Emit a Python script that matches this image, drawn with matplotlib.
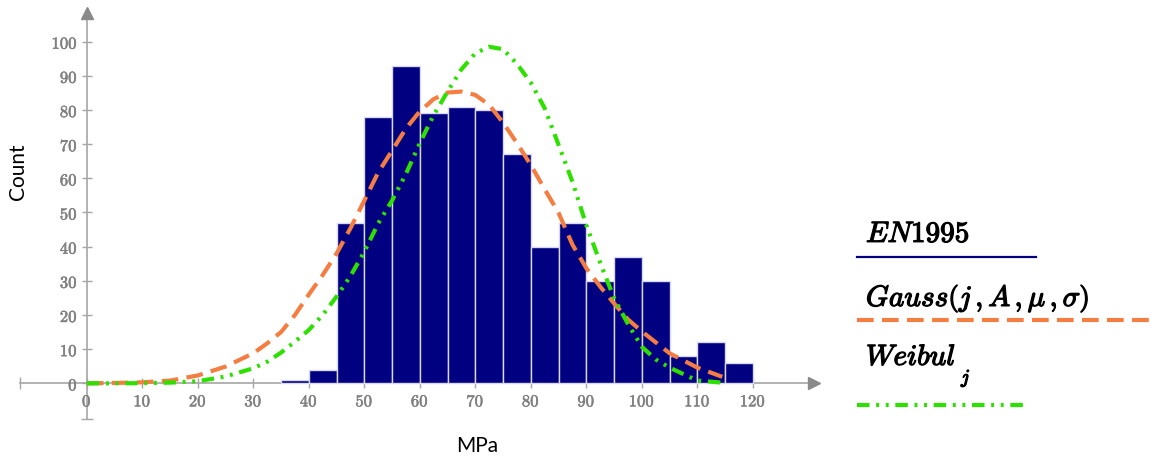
import matplotlib
matplotlib.use("Agg")
import matplotlib.pyplot as plt
import matplotlib.patheffects as pe
from matplotlib.lines import Line2D
from matplotlib.ticker import FuncFormatter

plt.rcParams['mathtext.fontset'] = 'cm'

# histogram (EN1995), 5 MPa bins, left edges
bin_left = [35, 40, 45, 50, 55, 60, 65, 70, 75, 80, 85, 90, 95, 100, 105, 110, 115]
counts = [1, 4, 47, 78, 93, 79, 81, 80, 67, 40, 47, 30, 37, 30, 8, 12, 6]

# fitted curves
gauss_x = [0, 5, 10, 15, 20, 25, 30, 32.5, 35, 37.5, 40, 42.5, 45, 47.5, 50, 52.5, 55, 57.5,
           60, 62.5, 65, 67.5, 70, 72.5, 75, 77.5, 80, 82.5, 85, 87.5, 90, 92.5, 95, 97.5,
           100, 105, 110, 114.5]
gauss_y = [0.0, 0.1, 0.3, 0.8, 2.3, 4.9, 8.8, 11.7, 15.0, 20.0, 26.0, 31.7, 38.0, 45.4, 53.5, 61.7, 68.1, 74.6,
           79.6, 83.2, 85.1, 85.4, 84.4, 81.5, 76.3, 70.3, 63.9, 56.8, 49.9, 40.6, 33.7, 28.3, 23.4, 18.7,
           15.2, 8.8, 4.6, 1.9]

weib_x = [0, 5, 10, 15, 20, 25, 30, 32.5, 35, 37.5, 40, 42.5, 45, 47.5, 50, 52.5, 55, 57.5,
          60, 62.5, 65, 67.5, 70, 72.5, 75, 77.5, 80, 82.5, 85, 87.5, 90, 92.5, 95, 97.5,
          100, 102.5, 105, 110, 114.5]
weib_y = [0.0, 0.0, 0.05, 0.2, 0.6, 2.0, 4.4, 6.3, 9.0, 12.2, 15.6, 20.0, 25.4, 31.4, 38.5, 46.8, 53.5, 61.3,
          70.3, 78.5, 85.4, 91.9, 96.6, 98.5, 97.8, 93.5, 88.0, 80.5, 69.8, 59.0, 46.3, 35.3, 24.9, 17.4,
          10.7, 7.0, 4.6, 0.8, 0.2]

xticks = list(range(0, 130, 10))
yticks = list(range(0, 110, 10))

W, H = 1150, 459
def px(x, y):
    return x / W, 1 - y / H

fig = plt.figure(figsize=(11.5, 4.59), dpi=100)
ax = fig.add_axes([0.01757, 0.0830, 0.6998, 0.9081])
ax.set_xlim(-12, 133)
ax.set_ylim(-11, 111)

ax.bar(bin_left, counts, width=5, align='edge', color='#000080', edgecolor='#d8d8f2', linewidth=1, zorder=2)
ax.plot(gauss_x, gauss_y, color='#f47d42', lw=3, dashes=(4, 2), zorder=3)
ax.plot(weib_x, weib_y, color='#2ee000', lw=3, dashes=(3, 1.6, 0.7, 1.6, 0.7, 1.6), zorder=3)

# axes through the origin with arrow heads
axis_col = '#a6a6a6'
for s in ['top', 'right']:
    ax.spines[s].set_visible(False)
ax.spines['left'].set_position(('data', 0))
ax.spines['bottom'].set_position(('data', 0))
ax.spines['left'].set_bounds(-10.5, 109)
ax.spines['bottom'].set_bounds(-12, 131)
for s in ['left', 'bottom']:
    ax.spines[s].set_color(axis_col)
    ax.spines[s].set_linewidth(1.2)
    ax.spines[s].set_zorder(1)
ax.plot(131, 0, marker='>', ms=9, color='#8a8a8a', clip_on=False)
ax.plot(0, 108.5, marker='^', ms=9, color='#8a8a8a', clip_on=False)
ax.plot(-12, 0, marker='|', ms=8, color=axis_col, clip_on=False)
ax.plot(0, -10.5, marker='_', ms=8, color=axis_col, clip_on=False)

ax.set_xticks(xticks)
ax.set_yticks(yticks)
fmt = FuncFormatter(lambda v, p: r'$%d$' % v)
ax.xaxis.set_major_formatter(fmt)
ax.yaxis.set_major_formatter(fmt)
ax.tick_params(direction='inout', length=7, width=1, color=axis_col,
               labelcolor='#808080', labelsize=12, pad=3)
for lab in ax.get_xticklabels() + ax.get_yticklabels():
    lab.set_path_effects([pe.withStroke(linewidth=0.4, foreground='#808080')])

fig.text(*px(18, 172), 'Count', rotation=90, ha='center', va='center', fontsize=15, family='Lato')
fig.text(*px(477, 446), 'MPa', ha='center', va='center', fontsize=15, family='Lato')

# legend on the right
bold = [pe.withStroke(linewidth=0.9, foreground='black')]
fig.text(*px(866, 242), r'$EN1995$', fontsize=21, ha='left', va='baseline', path_effects=bold)
fig.add_artist(Line2D([857 / W, 1036 / W], [1 - 256.7 / H] * 2, color='#000080', lw=1.6))
fig.text(*px(866, 306), r'$Gauss\left(j\,,A\,,\mu\,,\sigma\right)$', fontsize=21, ha='left',
         va='baseline', path_effects=bold)
fig.add_artist(Line2D([857 / W, 1150 / W], [1 - 320 / H] * 2, color='#f47d42', lw=3, dashes=(4, 2)))
fig.text(*px(866, 365), r'$Weibul$', fontsize=21, ha='left', va='baseline', path_effects=bold)
fig.text(*px(961, 383), r'$j$', fontsize=14, ha='left', va='baseline', path_effects=bold)
fig.add_artist(Line2D([857 / W, 1027 / W], [1 - 405 / H] * 2, color='#2ee000', lw=3,
                      dashes=(3, 1.6, 0.7, 1.6, 0.7, 1.6)))

fig.savefig('out.png', dpi=100)
